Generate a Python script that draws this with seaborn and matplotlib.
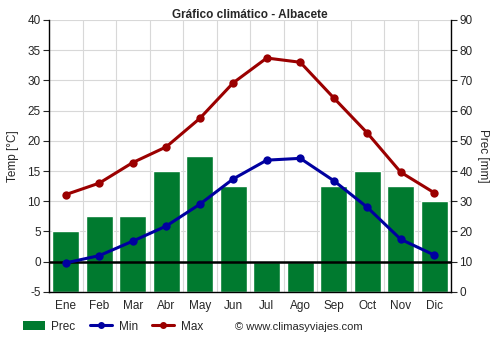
import matplotlib
matplotlib.use("Agg")
import matplotlib.pyplot as plt
import seaborn as sns
import pandas as pd
from matplotlib.patches import Patch
from matplotlib.lines import Line2D

months = ["Ene", "Feb", "Mar", "Abr", "May", "Jun", "Jul", "Ago", "Sep", "Oct", "Nov", "Dic"]
prec = [20, 25, 25, 40, 45, 35, 10, 10, 35, 40, 35, 30]
t_min = [-0.2, 1.0, 3.4, 5.9, 9.5, 13.7, 16.8, 17.1, 13.4, 9.0, 3.7, 1.1]
t_max = [11.1, 13.0, 16.4, 19.0, 23.7, 29.6, 33.7, 33.0, 27.1, 21.3, 14.8, 11.4]

df = pd.DataFrame({"mes": months, "prec": prec, "min": t_min, "max": t_max})

sns.set_style("white")
plt.rcParams["font.family"] = ["Liberation Sans", "DejaVu Sans"]
plt.rcParams["axes.unicode_minus"] = False

green = "#007a2f"
blue = "#0000a0"
red = "#9b0000"

fig = plt.figure(figsize=(5, 3.5), dpi=100)
ax = fig.add_axes([0.098, 0.166, 0.804, 0.777])
ax2 = ax.twinx()

# precipitation bars (right scale)
sns.barplot(data=df, x="mes", y="prec", color=green, width=0.8, saturation=1,
            ax=ax, zorder=2)
ax.set_ylim(0, 90)
ax.set_xlim(-0.5, 11.5)
ax.yaxis.tick_right()
ax.yaxis.set_label_position("right")
ax.set_yticks(range(0, 91, 10))
ax.set_ylabel("Prec [mm]", rotation=270, labelpad=12, fontsize=8.5)
ax.set_xlabel("")
ax.set_xticks([i + 0.5 for i in range(-1, 12)], minor=True)
ax.grid(True, which="minor", axis="x", color="#d8d8d8", lw=0.8, zorder=0)
ax.grid(True, which="major", axis="y", color="#d8d8d8", lw=0.8, zorder=0)
ax.tick_params(axis="x", which="major", length=0, labelsize=8.5, pad=6)
ax.tick_params(axis="x", which="minor", length=4, width=0.8, color="black", direction="out")
ax.tick_params(axis="y", length=4, width=0.8, labelsize=8.5, direction="out", pad=2,
               right=True, left=False, labelright=True, labelleft=False)
for s in ["top", "left"]:
    ax.spines[s].set_visible(False)
for s in ["bottom", "right"]:
    ax.spines[s].set_color("black")
    ax.spines[s].set_linewidth(1)

# temperature lines (left scale)
ax2.set_ylim(-5, 40)
ax2.axhline(0, color="black", lw=1.8, zorder=1)
sns.lineplot(data=df, x="mes", y="min", color=blue, lw=2.2, marker="o", markersize=6,
             markeredgewidth=0, ax=ax2, sort=False)
sns.lineplot(data=df, x="mes", y="max", color=red, lw=2.2, marker="o", markersize=6,
             markeredgewidth=0, ax=ax2, sort=False)
ax2.yaxis.set_label_position("left")
ax2.set_yticks(range(-5, 41, 5))
ax2.set_ylabel("Temp [°C]", fontsize=8.5, labelpad=6)
ax2.set_xlabel("")
ax2.tick_params(axis="y", length=4, width=0.8, labelsize=8.5, direction="out", pad=2,
                left=True, right=False, labelleft=True, labelright=False)
ax2.tick_params(axis="x", length=0)
for s in ["top", "right", "bottom"]:
    ax2.spines[s].set_visible(False)
ax2.spines["left"].set_color("black")
ax2.spines["left"].set_linewidth(1)
ax2.set_xlim(-0.5, 11.5)

fig.suptitle("Gráfico climático - Albacete", fontsize=8.5, fontweight="bold", y=0.975)

handles = [
    Patch(facecolor=green, edgecolor="none"),
    Line2D([], [], color=blue, lw=2.2, marker="o", markersize=4),
    Line2D([], [], color=red, lw=2.2, marker="o", markersize=4),
]
fig.legend(handles, ["Prec", "Min", "Max"], loc="center left",
           bbox_to_anchor=(0.045, 0.067), ncol=3, frameon=False, fontsize=8.5,
           handlelength=1.9, handletextpad=0.55, columnspacing=1.2, handleheight=0.9,
           borderaxespad=0, borderpad=0)
fig.text(0.47, 0.067, "© www.climasyviajes.com", fontsize=8, va="center", ha="left")

fig.savefig("out.png", dpi=100)
